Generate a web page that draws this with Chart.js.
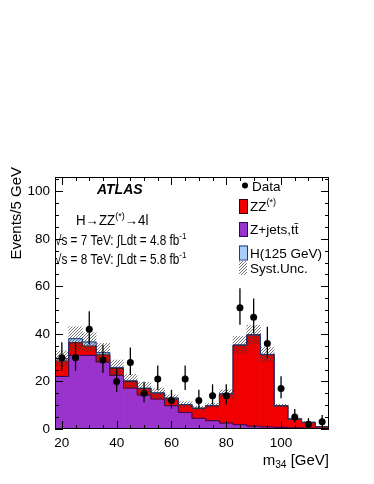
<!DOCTYPE html>
<html>
<head>
<meta charset="utf-8">
<script src="https://cdn.jsdelivr.net/npm/chart.js@4.4.1/dist/chart.umd.min.js"></script>
<style>
  html, body { margin: 0; padding: 0; background: #fff; }
  #wrap { width: 374px; height: 484px; }
</style>
</head>
<body>
<div id="wrap"><canvas id="m34Chart"></canvas></div>
<script>
// m34 bins, 5 GeV wide (bin centres)
const binCenters = [20, 25, 30, 35, 40, 45, 50, 55, 60, 65, 70, 75, 80, 85, 90, 95, 100, 105, 110, 115];

// data points and their error bars
const dataCounts  = [30, 30, 42, 29, 20, 28, 15, 21, 12, 21, 12, 14, 14, 51, 47, 36, 17, 5, 2, 3];
const dataErrUp   = [6.5, 6.5, 7.5, 6.4, 5.5, 6.3, 4.9, 5.7, 4.5, 5.7, 4.5, 4.8, 4.8, 8.2, 7.9, 7.0, 5.2, 3.4, 2.6, 2.9];
const dataErrDown = [5.5, 5.5, 6.5, 5.4, 4.4, 5.3, 3.8, 4.6, 3.4, 4.6, 3.4, 3.7, 3.7, 7.1, 6.8, 6.0, 4.1, 2.2, 1.3, 1.6];

// stacked expectations (per component)
const zjets = [22.1, 31.0, 31.0, 28.2, 22.6, 17.2, 14.3, 12.6, 9.8, 7.0, 4.5, 3.5, 2.5, 1.8, 1.2, 0.9, 0.7, 0.5, 0.4, 0.3];
const zz    = [6.5, 5.3, 3.9, 3.0, 2.8, 2.8, 2.7, 2.5, 3.1, 3.2, 4.2, 6.3, 12.2, 33.4, 38.3, 30.4, 9.1, 3.7, 2.4, 0.7];
const higgs = [1.0, 1.7, 1.7, 0.9, 0.5, 0.3, 0.2, 0.1, 0.1, 0.1, 0.1, 0.1, 0.1, 0.2, 0.2, 0.1, 0, 0, 0, 0];
// systematic uncertainty on the total (half width of hatched band)
const systUnc = [3.2, 5.0, 3.9, 3.9, 3.1, 2.7, 2.4, 2.0, 1.4, 1.2, 0.8, 0.9, 1.7, 3.5, 3.9, 2.9, 0.6, 0.4, 0.3, 0.1];

// axis tick labels
const xTickLabels = [20, 40, 60, 80, 100];
const yTickLabels = [0, 20, 40, 60, 80, 100];

const FONT = "'Liberation Sans', Arial, Helvetica, sans-serif";
const BIN = 5;

// cumulative stack tops
const topZjets = zjets.slice();
const topZZ = zjets.map((v, i) => v + zz[i]);
const topAll = topZZ.map((v, i) => v + higgs[i]);

const canvas = document.getElementById('m34Chart');
const ctx0 = canvas.getContext('2d');

// diagonal hatch used for Syst.Unc.
function makeHatch() {
    const p = document.createElement('canvas');
    p.width = 3; p.height = 3;
    const g = p.getContext('2d');
    g.strokeStyle = 'rgba(50,50,50,0.75)';
    g.lineWidth = 0.9;
    g.beginPath();
    g.moveTo(0, 3); g.lineTo(3, 0);
    g.moveTo(-1, 1); g.lineTo(1, -1);
    g.moveTo(2, 4); g.lineTo(4, 2);
    g.stroke();
    return ctx0.createPattern(p, 'repeat');
}
const hatch = makeHatch();

function floating(lo, hi) {
    return binCenters.map((c, i) => ({ x: c, y: [lo[i], hi[i]] }));
}
function stepLine(tops) {
    const pts = binCenters.map((c, i) => ({ x: c - BIN / 2, y: tops[i] }));
    pts.push({ x: binCenters[binCenters.length - 1] + BIN / 2, y: tops[tops.length - 1] });
    return pts;
}
const zeros = binCenters.map(() => 0);

const barCommon = { type: 'bar', grouped: false, barPercentage: 1, categoryPercentage: 1, borderWidth: 0 };
const lineCommon = { type: 'line', stepped: 'before', pointRadius: 0, borderWidth: 1, fill: false };

// draw text with optional superscript / subscript parts
function richText(ctx, parts, x, y, size, sx) {
    ctx.save();
    ctx.translate(x, y);
    ctx.scale(sx || 1, 1);
    let cx = 0;
    parts.forEach(p => {
        const s = p.sup || p.sub ? size * 0.68 : size;
        ctx.font = (p.style || '') + ' ' + s + 'px ' + FONT;
        const dy = p.sup ? -size * 0.42 : (p.sub ? size * 0.22 : 0);
        ctx.fillText(p.t, cx, dy);
        cx += ctx.measureText(p.t).width;
    });
    ctx.restore();
}

const decorPlugin = {
    id: 'decor',
    afterDatasetsDraw(chart) {
        const { ctx, chartArea: a, scales: { x, y } } = chart;
        ctx.save();
        // data error bars
        ctx.strokeStyle = '#000';
        ctx.lineWidth = 1.3;
        binCenters.forEach((c, i) => {
            const px = x.getPixelForValue(c);
            ctx.beginPath();
            ctx.moveTo(px, y.getPixelForValue(dataCounts[i] + dataErrUp[i]));
            ctx.lineTo(px, y.getPixelForValue(Math.max(0, dataCounts[i] - dataErrDown[i])));
            ctx.stroke();
        });
        // frame
        ctx.lineWidth = 1;
        ctx.strokeRect(a.left + 0.5, a.top + 0.5, a.right - a.left - 1, a.bottom - a.top - 1);
        // inward ticks on all four sides
        ctx.beginPath();
        for (let v = 20; v <= 115; v += 5) {
            const len = v % 20 === 0 ? 8 : 4;
            const px = Math.round(x.getPixelForValue(v)) + 0.5;
            ctx.moveTo(px, a.bottom); ctx.lineTo(px, a.bottom - len);
            ctx.moveTo(px, a.top); ctx.lineTo(px, a.top + len);
        }
        for (let v = 0; v <= 105; v += 5) {
            const len = v % 20 === 0 ? 8 : 4;
            const py = Math.round(y.getPixelForValue(v)) + 0.5;
            ctx.moveTo(a.left, py); ctx.lineTo(a.left + len, py);
            ctx.moveTo(a.right, py); ctx.lineTo(a.right - len, py);
        }
        ctx.stroke();
        ctx.restore();
    },
    afterDraw(chart) {
        const { ctx, chartArea: a } = chart;
        ctx.save();
        ctx.fillStyle = '#000';
        ctx.textBaseline = 'alphabetic';

        // axis titles
        ctx.save();
        ctx.translate(21, a.top - 10);
        ctx.rotate(-Math.PI / 2);
        ctx.textAlign = 'right';
        ctx.font = '15px ' + FONT;
        ctx.fillText('Events/5 GeV', 0, 0);
        ctx.restore();

        ctx.textAlign = 'left';
        const xt = [{ t: 'm' }, { t: '34', sub: true }, { t: ' [GeV]' }];
        let w = 0;
        xt.forEach(p => { ctx.font = (p.sub ? 15 * 0.68 : 15) + 'px ' + FONT; w += ctx.measureText(p.t).width; });
        richText(ctx, xt, a.right - w, 465, 15);

        // labels inside the frame
        ctx.font = 'italic bold 14px ' + FONT;
        ctx.fillText('ATLAS', 97, 194);
        richText(ctx, [{ t: 'H\u2192ZZ' }, { t: '(*)', sup: true }, { t: '\u21924l' }], 76, 225, 14, 0.95);
        richText(ctx, [{ t: '\u221As = 7 TeV: \u222BLdt = 4.8 fb' }, { t: '-1', sup: true }], 55, 245, 14, 0.84);
        richText(ctx, [{ t: '\u221As = 8 TeV: \u222BLdt = 5.8 fb' }, { t: '-1', sup: true }], 55, 264, 14, 0.84);

        // legend
        ctx.beginPath();
        ctx.arc(245, 185.5, 3, 0, Math.PI * 2);
        ctx.fill();
        richText(ctx, [{ t: 'Data' }], 252, 190.5, 13.5);

        const boxes = [
            { y: 206, fill: '#f00000', line: '#3a0000', parts: [{ t: 'ZZ' }, { t: '(*)', sup: true }] },
            { y: 229, fill: '#9933cc', line: '#2a0a55', parts: [{ t: 'Z+jets,t' }, { t: 't\u0304' }] },
            { y: 252.5, fill: '#a8cdf7', line: '#1a3a8a', parts: [{ t: 'H(125 GeV)' }] },
            { y: 268, fill: hatch, line: null, parts: [{ t: 'Syst.Unc.' }] }
        ];
        boxes.forEach(b => {
            ctx.fillStyle = b.fill;
            ctx.fillRect(239, b.y - 7, 8, 14);
            if (b.line) {
                ctx.strokeStyle = b.line;
                ctx.lineWidth = 1;
                ctx.strokeRect(239.5, b.y - 6.5, 8, 14);
            }
            ctx.fillStyle = '#000';
            richText(ctx, b.parts, 250, b.y + 5, 13.5);
        });
        ctx.restore();
    }
};

new Chart(canvas, {
    type: 'bar',
    data: {
        datasets: [
            {
                type: 'scatter',
                label: 'Data',
                data: binCenters.map((c, i) => ({ x: c, y: dataCounts[i] })),
                pointRadius: 3.5,
                pointBackgroundColor: '#000',
                pointBorderColor: '#000',
                pointBorderWidth: 0
            },
            Object.assign({}, barCommon, {
                label: 'Syst.Unc.',
                data: floating(topAll.map((v, i) => v - systUnc[i]), topAll.map((v, i) => v + systUnc[i])),
                backgroundColor: hatch
            }),
            Object.assign({}, lineCommon, { label: 'H outline', data: stepLine(topAll), borderColor: '#1a3a8a' }),
            Object.assign({}, lineCommon, { label: 'ZZ outline', data: stepLine(topZZ), borderColor: '#4a0000' }),
            Object.assign({}, lineCommon, { label: 'Zjets outline', data: stepLine(topZjets), borderColor: '#2a0a55' }),
            Object.assign({}, barCommon, { label: 'H(125 GeV)', data: floating(topZZ, topAll), backgroundColor: '#a8cdf7' }),
            Object.assign({}, barCommon, { label: 'ZZ(*)', data: floating(topZjets, topZZ), backgroundColor: '#f00000' }),
            Object.assign({}, barCommon, { label: 'Z+jets,tt', data: floating(zeros, topZjets), backgroundColor: '#9933cc' })
        ]
    },
    options: {
        responsive: true,
        maintainAspectRatio: false,
        devicePixelRatio: 1,
        animation: false,
        layout: { padding: { left: 0, right: 45, top: 177, bottom: 0 } },
        plugins: {
            legend: { display: false },
            tooltip: { enabled: false },
            title: { display: false }
        },
        scales: {
            x: {
                type: 'linear',
                min: 17.5,
                max: 117.5,
                offset: false,
                grid: { display: false, drawTicks: false },
                border: { display: false },
                afterBuildTicks: s => { s.ticks = xTickLabels.map(v => ({ value: v })); },
                afterFit: s => { s.height = 55; },
                ticks: { color: '#000', font: { family: FONT, size: 13.5 }, padding: 6, maxRotation: 0, autoSkip: false }
            },
            y: {
                min: 0,
                max: 106,
                grid: { display: false, drawTicks: false },
                border: { display: false },
                afterBuildTicks: s => { s.ticks = yTickLabels.map(v => ({ value: v })); },
                afterFit: s => { s.width = 55; },
                ticks: { color: '#000', font: { family: FONT, size: 13.5 }, padding: 5 }
            }
        }
    },
    plugins: [decorPlugin]
});
</script>
</body>
</html>
